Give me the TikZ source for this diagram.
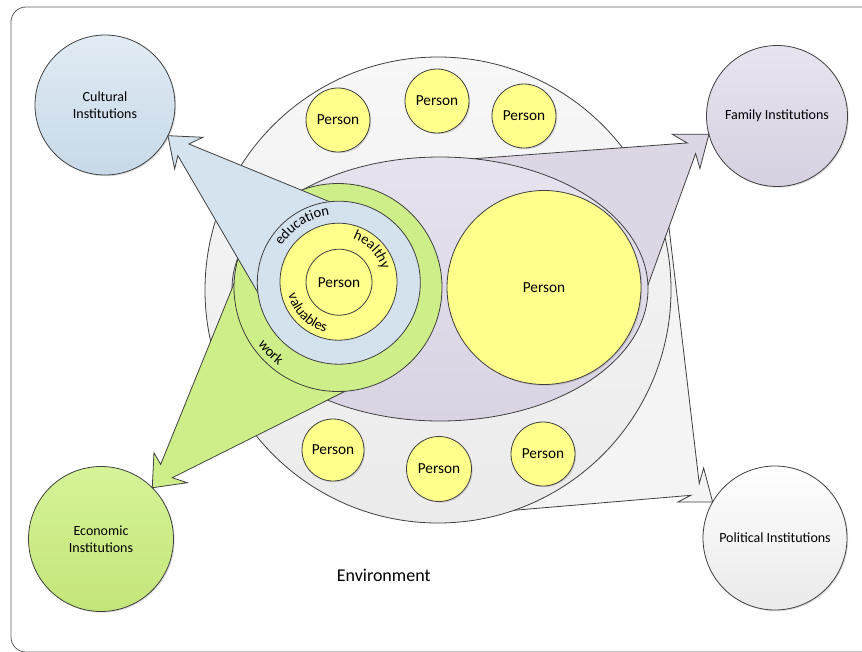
\documentclass[tikz,border=0pt]{standalone}
\usepackage{fontspec}
\setmainfont{Carlito}
\usetikzlibrary{shapes.geometric,decorations.text,calc,shadows}
\definecolor{edgec}{HTML}{3F3F3F}
\definecolor{framec}{HTML}{5A5A5A}
\definecolor{envtop}{HTML}{F7F7F7}
\definecolor{envbot}{HTML}{EBEBEB}
\definecolor{poltop}{HTML}{FEFEFE}
\definecolor{polbot}{HTML}{EAEAEA}
\definecolor{polwedge}{HTML}{F4F4F4}
\definecolor{yel}{HTML}{FFFF8C}
\definecolor{bluering}{HTML}{D4E2EE}
\definecolor{bluewedge}{HTML}{D5E3EE}
\definecolor{culttop}{HTML}{E1EBF4}
\definecolor{cultbot}{HTML}{C7D9E8}
\definecolor{greenring}{HTML}{CDEE88}
\definecolor{greenwedge}{HTML}{CDEE88}
\definecolor{econtop}{HTML}{D6F398}
\definecolor{econbot}{HTML}{C4E579}
\definecolor{purptop}{HTML}{E6E3EE}
\definecolor{purpbot}{HTML}{D9D3E3}
\definecolor{purpwedge}{HTML}{DCD6E5}
\definecolor{famtop}{HTML}{E8E4EF}
\definecolor{fambot}{HTML}{D6D0E0}
\newcommand\perfont{\fontsize{15.3}{18}\selectfont}
\newcommand\instfont{\fontsize{14}{17}\selectfont}
\newcommand\ringfont{\fontsize{14.5}{17}\selectfont}
\begin{document}
\begin{tikzpicture}[x=1pt,y=-1pt,
  outl/.style={draw=edgec,line width=0.8pt},
  softshadow/.style={drop shadow={shadow xshift=1.2pt,shadow yshift=-1.2pt,opacity=0.22,fill=black!60}},
  disc/.style={circle,outl,inner sep=0pt,outer sep=0pt,minimum size=#1},
  persondisc/.style={disc=#1,fill=yel,font=\perfont,softshadow},
  inst/.style={disc=#1,font=\instfont,align=center,softshadow},
  wedgeshape/.style={outl,line join=miter},
  ringtext/.style={decorate,decoration={text along path,text align=center,text={|\ringfont|#1}}}
]
\useasboundingbox (0,0) rectangle (862,651);
\begin{scope}
  \clip (0,0) rectangle (862,651);
  \draw[draw=framec,line width=0.8pt,rounded corners=15pt] (11,7) rectangle (900,652);
\end{scope}

% institution circles
\node[inst=140,top color=culttop,bottom color=cultbot] (cult) at (105,105) {Cultural\\Institutions};
\node[inst=141,top color=famtop,bottom color=fambot] (fam) at (777,116) {Family Institutions};
\node[inst=145,top color=econtop,bottom color=econbot] (econ) at (101,539) {Economic\\Institutions};
\node[inst=144,top color=poltop,bottom color=polbot] (pol) at (775,538) {Political Institutions};

% political arrow (under environment)
\coordinate (polT) at (pol.150.2);
\filldraw[wedgeshape,fill=polwedge] (667.5,215) -- ($(polT)+(-13.4,-18.4)$) -- ($(polT)+(-9,-34)$) -- (polT)
  -- ($(polT)+(-35,0)$) -- ($(polT)+(-21.7,-6.7)$) -- (470,514) -- (560,300) -- cycle;

% environment
\node[disc=466,top color=envtop,bottom color=envbot] (env) at (438,290) {};

% persons around
\node[persondisc=64] (p1) at (338,120) {Person};
\node[persondisc=64] (p2) at (437,101) {Person};
\node[persondisc=64] (p3) at (524,116) {Person};
\node[persondisc=62] (p4) at (333,450) {Person};
\node[persondisc=65] (p5) at (439,469) {Person};
\node[persondisc=64] (p6) at (543,454) {Person};

% family arrow
\coordinate (famT) at (fam.195);
\filldraw[wedgeshape,fill=purpwedge] (470,159) -- ($(famT)+(-21.7,8.7)$) -- ($(famT)+(-36.7,0)$) -- (famT)
  -- ($(famT)+(-9,34.3)$) -- ($(famT)+(-13.3,19.3)$) -- (640,307) -- (540,250) -- cycle;

% purple ellipse
\node[ellipse,outl,inner sep=0pt,minimum width=416,minimum height=264,top color=purptop,bottom color=purpbot] (purp) at (440,289) {};

% big person
\node[persondisc=194] (bigp) at (544,287.5) {Person};

% green arrow
\coordinate (econT) at (econ.45.9);
\filldraw[wedgeshape,fill=greenwedge] (243.6,260) -- ($(econT)+(8.4,-23.3)$) -- ($(econT)+(1.7,-35)$) -- (econT)
  -- ($(econT)+(35,-5)$) -- ($(econT)+(20,-10)$) -- (360,383.8) -- (338,287.5) -- cycle;
\node[disc=208,fill=greenring] (gring) at (338,287.5) {};

% blue arrow
\coordinate (cultT) at (cult.-26.6);
\filldraw[wedgeshape,fill=bluewedge] (340,206) -- ($(cultT)+(21,8.3)$) -- ($(cultT)+(35,1.6)$) -- (cultT)
  -- ($(cultT)+(6.7,33.3)$) -- ($(cultT)+(10,20)$) -- (268,310) -- (338.8,282.7) -- cycle;
\node[disc=163,fill=bluering] (bring) at (338.8,282.7) {};

% yellow ring and inner person
\node[disc=117,fill=yel] (yring) at (338.5,281.7) {};
\node[disc=66,fill=yel,font=\perfont] (pin) at (339,282.2) {Person};

% ring labels
\path[ringtext=education] (bring.center) ++(190:68) arc[start angle=190,end angle=285,radius=68];
\path[ringtext=healthy] (yring.center) ++(266.6:45) arc[start angle=266.6,end angle=366.6,radius=45];
\path[ringtext=valuables] (yring.center) ++(185:52) arc[start angle=185,end angle=85,radius=52];
\path[ringtext=work] (gring.center) ++(176:98) arc[start angle=176,end angle=96,radius=98];

% environment label
\node[font=\fontsize{18}{21}\selectfont] (envlabel) at (383.7,575) {Environment};
\end{tikzpicture}
\end{document}
